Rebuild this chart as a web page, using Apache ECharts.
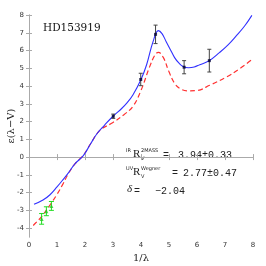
<!DOCTYPE html>
<html><head><meta charset="utf-8">
<script src="https://cdn.jsdelivr.net/npm/echarts@6/dist/echarts.min.js"></script>
<style>html,body{margin:0;padding:0;background:#fff}#c{width:266px;height:266px}</style>
</head><body><div id="c"></div>
<script>
var xTicks = [0,1,2,3,4,5,6,7,8];
var yTicks = [-4,-3,-2,-1,0,1,2,3,4,5,6,7,8];
var blueX = [0.18,0.5,0.75,1.0,1.2,1.4,1.64,1.94,2.2,2.42,2.7,3.0,3.3,3.5,3.71,4.0,4.2,4.43,4.62,4.75,4.9,5.05,5.2,5.35,5.5,5.7,5.9,6.1,6.44,6.8,7.1,7.4,7.7,7.96];
var blueY = [-2.66,-2.42,-2.12,-1.68,-1.3,-0.9,-0.38,0.08,0.75,1.3,1.8,2.3,2.72,3.05,3.5,4.37,5.2,6.5,7.12,6.95,6.5,6.05,5.6,5.3,5.1,5.03,5.07,5.2,5.43,5.88,6.3,6.82,7.38,7.98];
var redX = [0.15,0.45,0.75,1.0,1.2,1.4,1.64,1.94,2.2,2.53,3.0,3.4,3.71,4.0,4.3,4.5,4.62,4.8,5.0,5.2,5.4,5.65,6.0,6.45,7.05,7.5,7.96];
var redY = [-3.85,-3.35,-2.7,-2.1,-1.55,-0.95,-0.38,0.1,0.75,1.5,1.95,2.4,2.85,3.75,5.05,5.75,5.9,5.6,4.8,4.15,3.85,3.73,3.75,4.04,4.51,4.95,5.49];
var blackX = [3.01,3.99,4.52,5.54,6.44];
var blackY = [2.3,4.37,6.91,5.06,5.43];
var blackErr = [0.12,0.35,0.52,0.37,0.64];
var greenX = [0.45,0.62,0.8];
var greenY = [-3.48,-3.05,-2.75];
var greenErr = [0.3,0.25,0.25];

function pairs(xs, ys){ return xs.map(function(x,i){return [x, ys[i]];}); }
function errData(xs, ys, es){ return xs.map(function(x,i){return [x, ys[i]-es[i], ys[i]+es[i]];}); }
function errRender(color, cap){
  return function(params, api){
    var lo = api.coord([api.value(0), api.value(1)]);
    var hi = api.coord([api.value(0), api.value(2)]);
    var st = {stroke: color, lineWidth: 1};
    return {type:'group', children:[
      {type:'line', shape:{x1:lo[0],y1:lo[1],x2:hi[0],y2:hi[1]}, style:st},
      {type:'line', shape:{x1:lo[0]-cap,y1:lo[1],x2:lo[0]+cap,y2:lo[1]}, style:st},
      {type:'line', shape:{x1:hi[0]-cap,y1:hi[1],x2:hi[0]+cap,y2:hi[1]}, style:st}
    ]};
  };
}
var axisCol = '#aaaaaa';
var labFont = {fontSize: 7, color: '#333', fontFamily: 'DejaVu Sans'};
var chart = echarts.init(document.getElementById('c'), null, {renderer:'canvas'});
chart.setOption({
  animation: false,
  grid: {left: 29, right: 13, top: 15, bottom: 29, containLabel: false, outerBoundsMode: 'none'},
  xAxis: [
    {type:'value', min:0, max:8, interval:1, position:'bottom',
     axisLine:{lineStyle:{color:axisCol}}, axisTick:{inside:true, length:3, lineStyle:{color:axisCol}},
     axisLabel:Object.assign({margin:5}, labFont), splitLine:{show:false},
     name:'1/λ', nameLocation:'middle', nameGap:16, nameMoveOverlap:false,
     nameTextStyle:{fontSize:10, color:'#222', fontFamily:'DejaVu Serif'}},
    {type:'value', min:0, max:8, interval:1, position:'top',
     axisLine:{lineStyle:{color:axisCol}}, axisTick:{inside:true, length:3, lineStyle:{color:axisCol}},
     axisLabel:{show:false}, splitLine:{show:false}}
  ],
  yAxis: [
    {type:'value', min:-4.5, max:8, position:'left',
     axisLine:{show:true, lineStyle:{color:axisCol}},
     axisTick:{show:true, inside:true, length:3, lineStyle:{color:axisCol}, customValues: yTicks},
     axisLabel:Object.assign({margin:5, customValues: yTicks}, labFont), splitLine:{show:false},
     name:'ε(λ−V)', nameLocation:'middle', nameGap:13, nameRotate:90, nameMoveOverlap:false,
     nameTextStyle:{fontSize:10, color:'#222', fontFamily:'DejaVu Serif'}},
    {type:'value', min:-4.5, max:8, position:'right',
     axisLine:{show:true, lineStyle:{color:axisCol}},
     axisTick:{show:true, inside:true, length:3, lineStyle:{color:axisCol}, customValues: yTicks},
     axisLabel:{show:false}, splitLine:{show:false}}
  ],
  series: [
    {type:'line', data: pairs(redX, redY), smooth:0.4, showSymbol:false,
     lineStyle:{color:'#ff3030', width:1.2, type:[5,3]}, z:2},
    {type:'line', data: pairs(blueX, blueY), smooth:0.4, showSymbol:false,
     lineStyle:{color:'#3030ff', width:1.1}, z:3},
    {type:'custom', data: errData(blackX, blackY, blackErr), renderItem: errRender('#444', 2), z:4},
    {type:'scatter', data: pairs(blackX, blackY), symbol:'rect', symbolSize:3,
     itemStyle:{color:'#000033'}, z:5},
    {type:'custom', data: errData(greenX, greenY, greenErr), renderItem: errRender('#22dd22', 2.5), z:4},
    {type:'scatter', data: pairs(greenX, greenY), symbol:'triangle', symbolSize:4,
     itemStyle:{color:'#22cc22'}, z:5}
  ],
  graphic: [
    {type:'text', x:43, y:23, style:{text:'HD153919', font:'10.5px "DejaVu Serif"', fill:'#111'}},
    {type:'text', x:126, y:148, style:{text:'IR', font:'5px "DejaVu Sans"', fill:'#222'}},
    {type:'text', x:133, y:149, style:{text:'R', font:'11px "Liberation Serif"', fill:'#222'}},
    {type:'text', x:141, y:148, style:{text:'2MASS', font:'5px "DejaVu Sans"', fill:'#222'}},
    {type:'text', x:141, y:156, style:{text:'V', font:'5px "DejaVu Sans"', fill:'#222'}},
    {type:'text', x:163, y:150, style:{text:'=', font:'10px "Liberation Mono"', fill:'#222'}},
    {type:'text', x:178, y:150, style:{text:'3.94±0.33', font:'10px "Liberation Mono"', fill:'#222'}},
    {type:'text', x:126, y:166, style:{text:'UV', font:'5px "DejaVu Sans"', fill:'#222'}},
    {type:'text', x:133, y:167, style:{text:'R', font:'11px "Liberation Serif"', fill:'#222'}},
    {type:'text', x:141, y:166, style:{text:'Wegner', font:'5px "DejaVu Sans"', fill:'#222'}},
    {type:'text', x:141, y:174, style:{text:'V', font:'5px "DejaVu Sans"', fill:'#222'}},
    {type:'text', x:172, y:168, style:{text:'=', font:'10px "Liberation Mono"', fill:'#222'}},
    {type:'text', x:183, y:168, style:{text:'2.77±0.47', font:'10px "Liberation Mono"', fill:'#222'}},
    {type:'text', x:127, y:184, style:{text:'δ', font:'italic 11px "Liberation Serif"', fill:'#222'}},
    {type:'text', x:134, y:186, style:{text:'=', font:'10px "Liberation Mono"', fill:'#222'}},
    {type:'text', x:155, y:186, style:{text:'−2.04', font:'10px "Liberation Mono"', fill:'#222'}}
  ]
});
</script></body></html>
